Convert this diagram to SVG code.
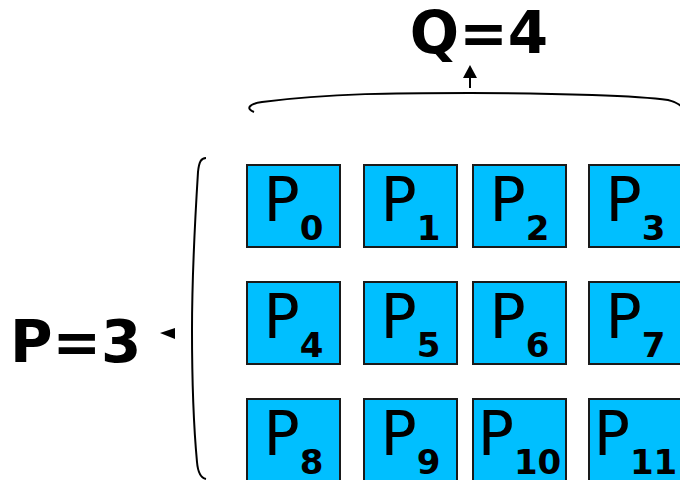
<svg xmlns="http://www.w3.org/2000/svg" width="680" height="480" viewBox="0 0 680 480">
<style>
.box{fill:#00BFFF;stroke:#1a1a1a;stroke-width:2}
.lbl{font-family:"DejaVu Sans",sans-serif;font-size:60px;fill:#000;text-anchor:middle}
.sub{font-weight:bold;font-size:34px}
.big{font-family:"DejaVu Sans",sans-serif;font-size:58px;font-weight:bold;fill:#000}
.brace{fill:none;stroke:#000;stroke-width:2}
</style>
<rect width="680" height="480" fill="#fff"/>
<g id="connectors">
<path class="brace" d="M254,112 C246,109 248,104 262,102 C330,93 400,93 470,93 C560,93 640,96 668,100 C676,102 680,105 682,107"/>
<line x1="470" y1="88" x2="470" y2="76" stroke="#000" stroke-width="2"/>
<polygon points="463,78 477,78 470,65" fill="#000"/>
<path class="brace" d="M206,158 C201,158 199,162 198,172 C195,220 192,280 192,330 C192,380 194,430 197,462 C198,474 201,478 206,479"/>
<polygon points="175,328 175,339 160,333" fill="#000"/>
</g>
<g id="label-Q"><text class="big" x="479" y="53" text-anchor="middle">Q=4</text></g>
<g id="label-P"><text class="big" x="10" y="362">P=3</text></g>
<g id="p0"><rect class="box" x="247" y="165" width="93" height="82"/><text class="lbl" x="293.5" y="221">P<tspan class="sub" dy="19">0</tspan></text></g>
<g id="p1"><rect class="box" x="364" y="165" width="93" height="82"/><text class="lbl" x="410.5" y="221">P<tspan class="sub" dy="19">1</tspan></text></g>
<g id="p2"><rect class="box" x="473" y="165" width="93" height="82"/><text class="lbl" x="519.5" y="221">P<tspan class="sub" dy="19">2</tspan></text></g>
<g id="p3"><rect class="box" x="589" y="165" width="93" height="82"/><text class="lbl" x="635.5" y="221">P<tspan class="sub" dy="19">3</tspan></text></g>
<g id="p4"><rect class="box" x="247" y="282" width="93" height="82"/><text class="lbl" x="293.5" y="338">P<tspan class="sub" dy="19">4</tspan></text></g>
<g id="p5"><rect class="box" x="364" y="282" width="93" height="82"/><text class="lbl" x="410.5" y="338">P<tspan class="sub" dy="19">5</tspan></text></g>
<g id="p6"><rect class="box" x="473" y="282" width="93" height="82"/><text class="lbl" x="519.5" y="338">P<tspan class="sub" dy="19">6</tspan></text></g>
<g id="p7"><rect class="box" x="589" y="282" width="93" height="82"/><text class="lbl" x="635.5" y="338">P<tspan class="sub" dy="19">7</tspan></text></g>
<g id="p8"><rect class="box" x="247" y="399" width="93" height="82"/><text class="lbl" x="293.5" y="455">P<tspan class="sub" dy="19">8</tspan></text></g>
<g id="p9"><rect class="box" x="364" y="399" width="93" height="82"/><text class="lbl" x="410.5" y="455">P<tspan class="sub" dy="19">9</tspan></text></g>
<g id="p10"><rect class="box" x="473" y="399" width="93" height="82"/><text class="lbl" x="519.5" y="455">P<tspan class="sub" dy="19">10</tspan></text></g>
<g id="p11"><rect class="box" x="589" y="399" width="93" height="82"/><text class="lbl" x="635.5" y="455">P<tspan class="sub" dy="19">11</tspan></text></g>
</svg>
